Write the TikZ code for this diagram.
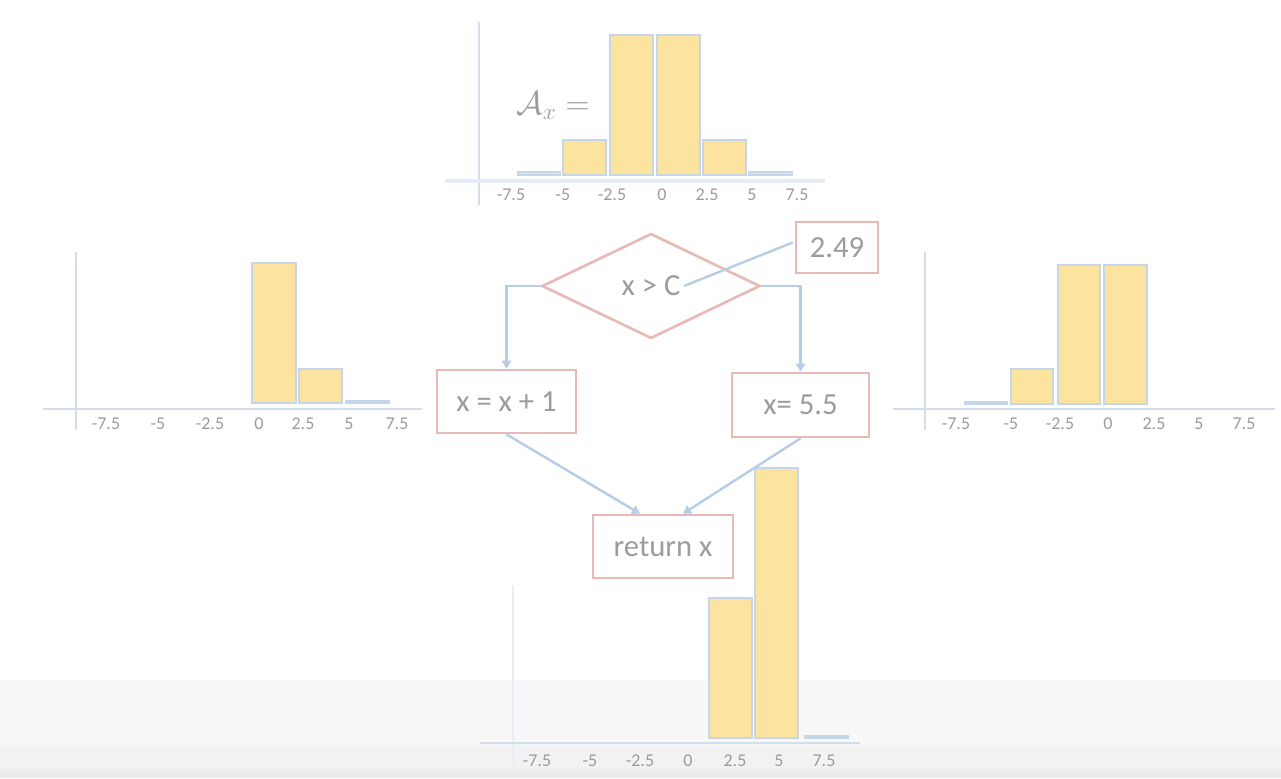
\documentclass[tikz,border=0pt]{standalone}
\usepackage{fontspec}
\setmainfont{Carlito}
\usetikzlibrary{shapes.geometric,arrows.meta,calc}
\definecolor{barfill}{HTML}{FCE4A0}
\definecolor{barline}{HTML}{C6D5E8}
\definecolor{axiscol}{HTML}{D2DEEC}
\definecolor{txtcol}{HTML}{9C9C9C}
\definecolor{boxline}{HTML}{E8BAB6}
\definecolor{conncol}{HTML}{B7CCE6}
\definecolor{bandA}{HTML}{F8F8F8}
\definecolor{bandB}{HTML}{F2F2F2}
\definecolor{bandC}{HTML}{ECECEC}
\tikzset{
  bar/.style={fill=barfill,draw=barline,line width=1.2pt},
  axisline/.style={draw=axiscol,line width=1pt},
  tick/.style={text=txtcol,font=\fontsize{13.5}{15}\selectfont,inner sep=0pt},
  flowbox/.style={draw=boxline,line width=2pt,text=txtcol,font=\fontsize{23}{25}\selectfont,inner sep=0pt},
  conn/.style={draw=conncol,line width=1.8pt},
  connarrow/.style={conn,-{Triangle[length=6pt,width=7pt]}}
}
\begin{document}
\begin{tikzpicture}[x=0.75pt,y=-0.75pt]
\useasboundingbox (0,0) rectangle (1281,778);
\fill[white] (0,0) rectangle (1281,680);
\fill[bandA] (0,680) rectangle (1281,745);
\fill[bandB] (0,745) rectangle (1281,769);
\fill[bandC] (0,769) rectangle (1281,778);

% ---------- top histogram ----------
\draw[axisline] (479,22) -- (479,205);
\draw[draw=axiscol!60,line width=2.5pt] (445,181) -- (825,181);
\draw[bar] (518,175) rectangle (560,172);
\draw[bar] (563,175) rectangle (606,140);
\draw[bar] (610,175) rectangle (653,35);
\draw[bar] (657,175) rectangle (700,35);
\draw[bar] (703,175) rectangle (746,140);
\draw[bar] (749,175) rectangle (792,172);
\foreach \x/\t [count=\i] in {511/-7.5,563/-5,612/-2.5,662/0,707/2.5,752/5,797/7.5}
  \node[tick] (ta\i) at (\x,195) {\t};
\node[text=txtcol,font=\fontsize{25}{27}\selectfont,inner sep=0pt] (ax) at (553,106) {$\mathcal{A}_x =$};

% ---------- left histogram ----------
\draw[axisline] (76,252) -- (76,430);
\draw[axisline] (43,409) -- (422,409);
\draw[bar] (252,403) rectangle (296,263);
\draw[bar] (299,403) rectangle (342,369);
\draw[bar] (346,403) rectangle (389,401);
\foreach \x/\t [count=\i] in {106/-7.5,158/-5,210/-2.5,259/0,303/2.5,349/5,397/7.5}
  \node[tick] (tl\i) at (\x,424) {\t};

% ---------- right histogram ----------
\draw[axisline] (925,252) -- (925,430);
\draw[axisline] (893,409) -- (1275,409);
\draw[bar] (965,404) rectangle (1007,402);
\draw[bar] (1011,404) rectangle (1053,369);
\draw[bar] (1058,404) rectangle (1100,265);
\draw[bar] (1104,404) rectangle (1147,265);
\foreach \x/\t [count=\i] in {956/-7.5,1011/-5,1060/-2.5,1108/0,1154/2.5,1199/5,1244/7.5}
  \node[tick] (tr\i) at (\x,424) {\t};

% ---------- bottom histogram ----------
\draw[draw=axiscol!50,line width=1pt] (513,585) -- (513,765);
\draw[axisline] (480,743) -- (860,743);
\draw[bar] (709,738) rectangle (752,598);
\draw[bar] (755,738) rectangle (798,468);
\draw[bar] (805,738) rectangle (848,736);
\foreach \x/\t [count=\i] in {537/-7.5,590/-5,640/-2.5,688/0,735/2.5,779/5,824/7.5}
  \node[tick] (tb\i) at (\x,761) {\t};

% ---------- flowchart ----------
\node[diamond,draw=boxline,line width=2pt,text=txtcol,font=\fontsize{23}{25}\selectfont,
      inner sep=0pt,minimum width=218*0.75pt,minimum height=105*0.75pt] (cond) at (651,286) {x > C};
\node[flowbox,minimum width=82*0.75pt,minimum height=51*0.75pt] (val) at (837,247.5) {2.49};
\node[flowbox,minimum width=139*0.75pt,minimum height=63*0.75pt] (inc) at (506.5,401.5) {x = x + 1};
\node[flowbox,minimum width=137*0.75pt,minimum height=64*0.75pt] (set) at (800.5,405) {x= 5.5};
\node[flowbox,minimum width=140*0.75pt,minimum height=63*0.75pt] (ret) at (663,546.5) {return x};

\coordinate (cend) at (684,286);
\draw[conn] (cend) -- ($(val.west)+(-2,-5)$);
\draw[connarrow] (cond.west) -| (inc.north);
\draw[connarrow] (cond.east) -| (set.north);
\draw[connarrow] (inc.south) -- ($(ret.north)+(-23,0)$);
\draw[connarrow] (set.south) -- ($(ret.north)+(20,0)$);
\end{tikzpicture}
\end{document}
